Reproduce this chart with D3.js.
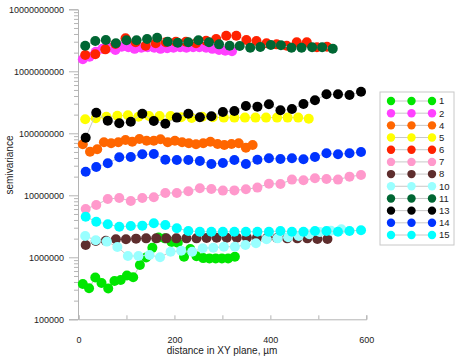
<!DOCTYPE html>
<html>
<head>
<meta charset="utf-8">
<script src="https://d3js.org/d3.v7.min.js"></script>
<style>
  html, body { margin: 0; padding: 0; background: #fff; }
  svg { display: block; font-family: "Liberation Sans", Arial, sans-serif; }
</style>
</head>
<body>
<svg id="chart" width="456" height="362"></svg>
<script>
// ── Daten: Lag-Distanz (µm) und Semivarianz je Serie ──────────
const NAMES  = ['1', '2', '4', '5', '6', '7', '8', '10', '11', '13', '14', '15'];
const COLORS = ['#00e600', '#ff40ff', '#ff6600', '#ffff00', '#ff2200', '#ff99cc',
                '#5e2d2d', '#99ffff', '#006633', '#000000', '#0033ff', '#00ffff'];

const LAG_1 = [9, 22, 35, 48, 62, 75, 88, 101, 114, 128, 141, 154, 167, 180, 194, 207, 220, 233, 246, 260, 273, 286, 299, 312, 326];
const SV_1  = [3.71e5, 3.16e5, 4.72e5, 3.85e5, 3.14e5, 4.15e5, 4.3e5, 5.09e5, 4.76e5, 7.5e5, 9.9e5, 1.42e6, 2.09e6,
               2.02e6, 1.77e6, 1.72e6, 1.02e6, 1.36e6, 1.04e6, 9.7e5, 9.6e5, 9.6e5, 9.6e5, 9.6e5, 1.02e6];

const LAG_2 = [9, 23, 36, 50, 63, 77, 90, 104, 117, 131, 144, 158, 171, 185, 198, 212, 225, 239, 252, 266, 279, 293, 306, 320];
const SV_2  = [1.56e9, 1.72e9, 2.07e9, 2.3e9, 2.4e9, 2.2e9, 2.5e9, 2.45e9, 2.3e9, 2.4e9, 2.45e9, 2.4e9,
               2.3e9, 2.35e9, 2.4e9, 2.45e9, 2.4e9, 2.45e9, 2.45e9, 2.4e9, 2.3e9, 2.2e9, 2.15e9, 2.1e9];

const LAG_4 = [9, 24, 39, 53, 68, 83, 98, 112, 127, 142, 157, 171, 186, 201, 216, 230, 245, 260, 275, 290, 304, 319, 334, 349, 363];
const SV_4  = [6.65e7, 5.05e7, 5.52e7, 7.16e7, 6.9e7, 7.16e7, 7.8e7, 7.32e7, 8.09e7, 7.6e7, 7.6e7, 8.0e7, 7.16e7,
               7.6e7, 7.16e7, 6.9e7, 6.65e7, 6.9e7, 7.32e7, 6.72e7, 6.48e7, 6.72e7, 6.9e7, 5.86e7, 6.48e7];

const LAG_5 = [14, 36, 58, 81, 103, 125, 147, 169, 192, 214, 236, 258, 280, 303, 325, 347, 369, 391, 414, 436, 458, 480];
const SV_5  = [1.68e8, 1.75e8, 1.85e8, 1.92e8, 1.95e8, 1.85e8, 1.9e8, 1.9e8, 1.9e8, 1.81e8, 1.77e8, 1.85e8,
               1.81e8, 1.79e8, 1.79e8, 1.79e8, 1.79e8, 1.79e8, 1.79e8, 1.79e8, 1.79e8, 1.72e8];

const LAG_6 = [14, 35, 56, 77, 98, 119, 140, 161, 182, 203, 224, 245, 266, 287, 308, 329, 350, 371, 392, 413, 434, 455, 476, 497, 518];
const SV_6  = [1.83e9, 1.88e9, 2.26e9, 2.75e9, 3.41e9, 2.94e9, 2.59e9, 2.83e9, 2.94e9, 3.0e9, 3.0e9, 2.83e9, 3.12e9,
               3.32e9, 3.75e9, 3.75e9, 3.2e9, 3.08e9, 2.83e9, 2.72e9, 2.59e9, 2.94e9, 2.94e9, 2.44e9, 2.49e9];

const LAG_STD = [15, 37, 61, 85, 109, 133, 157, 181, 205, 229, 253, 277, 301, 325, 349, 373, 397, 421, 445, 469, 493, 517, 541, 565, 589];

const SV_7  = [6.01e6, 6.98e6, 8.72e6, 9.04e6, 8.09e6, 9.04e6, 9.28e6, 1.09e7, 1.09e7, 1.16e7, 1.3e7, 1.26e7, 1.19e7,
               1.2e7, 1.25e7, 1.33e7, 1.54e7, 1.52e7, 1.79e7, 1.75e7, 1.88e7, 1.83e7, 1.79e7, 2.0e7, 2.12e7];

const LAG_8 = [15, 36, 57, 78, 99, 120, 141, 162, 183, 204, 225, 246, 267, 288, 309, 330, 351, 372, 393, 414, 435, 456, 477, 498, 519];
const SV_8  = [1.58e6, 1.83e6, 1.85e6, 1.95e6, 1.95e6, 2.0e6, 2.02e6, 2.02e6, 2.02e6, 2.02e6, 2.02e6, 2.02e6, 2.05e6,
               2.07e6, 2.07e6, 2.07e6, 2.07e6, 2.07e6, 2.05e6, 2.05e6, 2.02e6, 2.02e6, 2.02e6, 1.97e6, 1.97e6];

const LAG_10 = [14, 36, 59, 81, 103, 125, 148, 170, 192, 214, 237, 259, 281, 303, 326, 348, 370, 392, 415, 437, 459, 481, 503, 526, 548];
const SV_10  = [2.21e6, 1.88e6, 1.79e6, 1.47e6, 1.05e6, 1.05e6, 1.09e6, 1.0e6, 1.23e6, 1.28e6, 1.23e6, 1.4e6, 1.43e6,
                1.48e6, 1.48e6, 1.58e6, 1.68e6, 1.95e6, 2.02e6, 2.1e6, 2.21e6, 2.35e6, 2.56e6, 2.69e6, 2.83e6];

const LAG_11 = [14, 35, 57, 78, 100, 121, 143, 164, 186, 207, 229, 250, 272, 293, 315, 336, 358, 379, 401, 422, 444, 465, 487, 508, 530];
const SV_11  = [2.59e9, 3.08e9, 3.2e9, 2.83e9, 3.16e9, 3.16e9, 3.32e9, 3.48e9, 3.0e9, 2.89e9, 2.94e9, 3.16e9, 2.94e9,
                2.72e9, 2.59e9, 2.56e9, 2.4e9, 2.47e9, 2.65e9, 2.63e9, 2.4e9, 2.4e9, 2.44e9, 2.44e9, 2.32e9];

const SV_13 = [8.49e7, 2.15e8, 1.6e8, 1.45e8, 1.54e8, 2.07e8, 1.58e8, 1.43e8, 1.79e8, 2.07e8, 1.81e8, 1.88e8, 2.21e8,
               2.29e8, 2.76e8, 2.69e8, 2.94e8, 2.35e8, 2.47e8, 2.97e8, 3.41e8, 4.26e8, 4.26e8, 4.15e8, 4.69e8];

const SV_14 = [2.4e7, 2.86e7, 3.28e7, 4.1e7, 4.15e7, 4.58e7, 4.64e7, 3.75e7, 3.71e7, 3.71e7, 3.57e7, 3.2e7, 3.32e7,
               3.71e7, 3.2e7, 3.75e7, 3.95e7, 3.85e7, 3.95e7, 3.81e7, 4.15e7, 4.76e7, 4.58e7, 4.76e7, 4.99e7];

const SV_15 = [4.52e6, 3.75e6, 3.41e6, 3.12e6, 3.2e6, 3.24e6, 3.53e6, 3.32e6, 2.94e6, 2.66e6, 2.59e6, 2.59e6, 2.59e6,
               2.59e6, 2.59e6, 2.59e6, 2.59e6, 2.66e6, 2.59e6, 2.59e6, 2.66e6, 2.66e6, 2.59e6, 2.66e6, 2.73e6];

const LAGS = [LAG_1, LAG_2, LAG_4, LAG_5, LAG_6, LAG_STD, LAG_8, LAG_10, LAG_11, LAG_STD, LAG_STD, LAG_STD];
const SVS  = [SV_1, SV_2, SV_4, SV_5, SV_6, SV_7, SV_8, SV_10, SV_11, SV_13, SV_14, SV_15];

const X_TICKS = [0, 100, 200, 300, 400, 500, 600];
const Y_TICKS = [1e5, 1e6, 1e7, 1e8, 1e9, 1e10];

// ── Aufbau ────────────────────────────────────────────
const svg = d3.select('#chart');
const AXIS_GRAY = '#b4b4b4';
const TEXT = '#222';

const x = d3.scaleLinear().domain([0, 600]).range([78.5, 366.3]);
const y = d3.scaleLog().domain([1e5, 1e10]).range([319.3, 9.3]);

const series = NAMES.map((n, i) => ({
  name: n, color: COLORS[i],
  pts: LAGS[i].map((d, j) => ({ x: d, y: SVS[i][j] }))
}));

// Y-Achse: Haupt- und Nebenstriche
const minor = [];
for (let e = 5; e < 10; e++) for (let m = 2; m <= 9; m++) minor.push(m * Math.pow(10, e));

const yMinor = svg.append('g').attr('transform', 'translate(78,0)')
  .call(d3.axisLeft(y).tickValues(minor).tickSize(4).tickFormat(''));
const yAxis = svg.append('g').attr('transform', 'translate(78,0)')
  .call(d3.axisLeft(y).tickValues(Y_TICKS).tickSize(9).tickPadding(5).tickFormat(d3.format('d')));

// X-Achse: Striche nach innen
const xAxis = svg.append('g').attr('transform', 'translate(0,319.3)')
  .call(d3.axisBottom(x).tickValues(X_TICKS).tickSize(-4)
    .tickFormat(d => d % 200 === 0 ? d : ''));
xAxis.selectAll('text').attr('y', 17);

[yMinor, yAxis, xAxis].forEach(a => {
  a.selectAll('path.domain').attr('stroke', AXIS_GRAY);
  a.selectAll('line').attr('stroke', AXIS_GRAY);
  a.selectAll('text').attr('fill', TEXT).attr('font-size', 9)
    .attr('font-family', '"Liberation Sans", Arial, sans-serif');
});
yMinor.select('path.domain').remove();

// Achsentitel
svg.append('text')
  .attr('transform', 'translate(13,165) rotate(-90)')
  .attr('text-anchor', 'middle').attr('font-size', 10).attr('fill', TEXT)
  .text('semivariance');
svg.append('text')
  .attr('x', 222).attr('y', 354)
  .attr('text-anchor', 'middle').attr('font-size', 10).attr('fill', TEXT)
  .text('distance in XY plane, µm');

// Serien (Linie + Symbole, in Legendenreihenfolge)
const line = d3.line().x(d => x(d.x)).y(d => y(d.y));
const plot = svg.append('g');
series.forEach(s => {
  const g = plot.append('g');
  g.append('path').datum(s.pts)
    .attr('d', line).attr('fill', 'none')
    .attr('stroke', '#c8c8c8').attr('stroke-width', 1);
  g.selectAll('circle').data(s.pts).join('circle')
    .attr('cx', d => x(d.x)).attr('cy', d => y(d.y))
    .attr('r', 5).attr('fill', s.color);
});

// Legende
const lg = svg.append('g');
lg.append('rect')
  .attr('x', 380).attr('y', 92).attr('width', 74).attr('height', 153)
  .attr('fill', '#fff').attr('stroke', '#c8c8c8').attr('stroke-width', 1);

const row = d3.scaleLinear().domain([0, NAMES.length - 1]).range([101, 235]);
series.forEach((s, i) => {
  const gy = row(i);
  lg.append('line')
    .attr('x1', 391).attr('x2', 432).attr('y1', gy).attr('y2', gy)
    .attr('stroke', '#c8c8c8').attr('stroke-width', 1);
  [391, 411.5, 432].forEach(cx => {
    lg.append('circle').attr('cx', cx).attr('cy', gy).attr('r', 4.2).attr('fill', s.color);
  });
  lg.append('text')
    .attr('x', 439).attr('y', gy).attr('dy', '0.35em')
    .attr('font-size', 9.5).attr('fill', TEXT)
    .text(s.name);
});
</script>
</body>
</html>
